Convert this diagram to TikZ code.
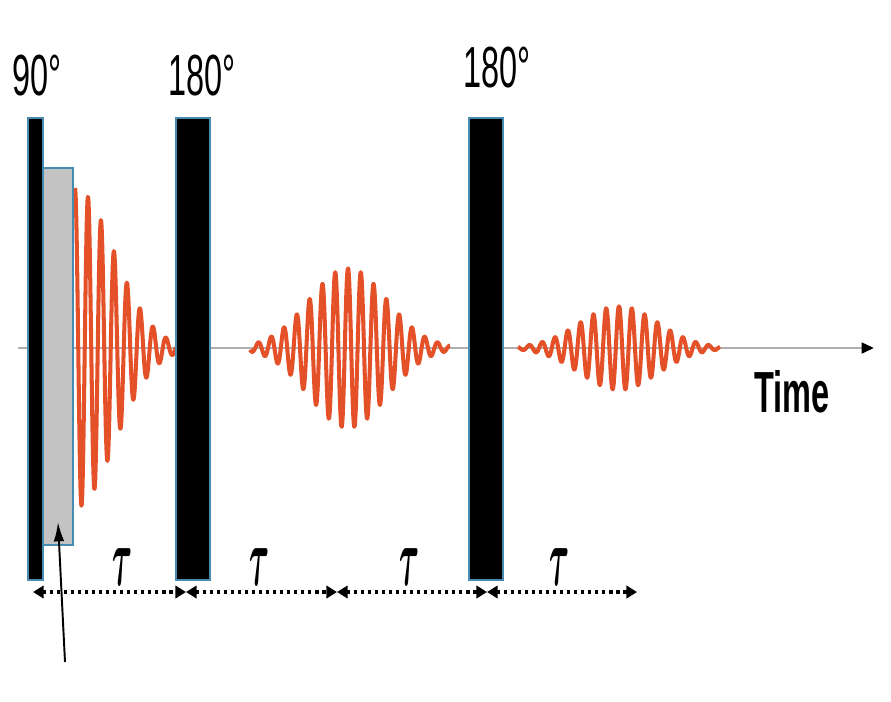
\documentclass[tikz,border=0pt]{standalone}
\usepackage{fontspec}
\usepackage{graphicx}
\usetikzlibrary{arrows.meta}
\newfontfamily\narrowsans[FakeStretch=0.56]{Liberation Sans}
\definecolor{pulseblue}{RGB}{70,140,178}
\definecolor{echored}{RGB}{228,80,40}
\definecolor{axisgray}{RGB}{176,176,176}
\definecolor{gatefill}{RGB}{195,195,195}

\begin{document}
\begin{tikzpicture}
        [x=0.02cm,y=-0.02cm,
        pulse-bar/.style={rectangle,draw=pulseblue,fill=black,line width=1.4pt,inner sep=0pt,outer sep=0pt},
        gate-box/.style={rectangle,draw=pulseblue,fill=gatefill,line width=1.4pt,inner sep=0pt,outer sep=0pt},
        angle-label/.style={anchor=base,inner sep=0pt,font=\narrowsans\fontsize{33}{33}\selectfont},
        time-label/.style={anchor=base,inner sep=0pt,font=\narrowsans\bfseries\fontsize{33}{33}\selectfont},
        tau-label/.style={inner sep=0pt,font=\fontsize{25}{25}\selectfont\boldmath},
        wave/.style={echored,line width=2.3pt,line join=round},
        time-axis/.style={axisgray,line width=1.6pt,-{Triangle[length=7pt,width=6pt,black]}},
        tau-arrow/.style={line width=2.3pt,dash pattern=on 1.8pt off 2.2pt,{Triangle[length=6pt,width=7pt]}-{Triangle[length=6pt,width=7pt]}},
        pointer/.style={line width=1.1pt,-{Latex[length=11pt,width=6pt]}}
        ]
        \useasboundingbox (0,0) rectangle (891,701);
        \coordinate (ax-0) at (18,348);
        \coordinate (ax-1) at (874,348);
        \draw[time-axis] (ax-0) -- (ax-1);
        \draw[wave] plot[domain=75:176,samples=300] (\x,{348-160*exp(-(((\x-75)/55)^2))*cos(360/13*(\x-75))});
        \draw[wave] plot[domain=250:450,samples=400] (\x,{348-80*exp(-(((\x-348)/55)^2))*cos(360/12.8*(\x-348))});
        \draw[wave] plot[domain=518:720,samples=400] (\x,{348-42*exp(-(((\x-619)/55)^2))*cos(360/12.8*(\x-619))});
        \node[pulse-bar,minimum width=0.30cm,minimum height=9.24cm] (pulse-90) at (35.5,349) {};
        \node[gate-box,minimum width=0.60cm,minimum height=7.54cm] (gate) at (58,356.5) {};
        \node[pulse-bar,minimum width=0.68cm,minimum height=9.24cm] (pulse-180a) at (193,349) {};
        \node[pulse-bar,minimum width=0.68cm,minimum height=9.24cm] (pulse-180b) at (486,349) {};
        \node[angle-label] (lbl-90) at (37,95) {90°};
        \node[angle-label] (lbl-180a) at (202,95) {180°};
        \node[angle-label] (lbl-180b) at (497,87) {180°};
        \node[time-label] (lbl-time) at (792,412) {Time};
        \coordinate (t-0) at (33,592);
        \coordinate (t-1) at (186,592);
        \coordinate (t-2) at (337,592);
        \coordinate (t-3) at (487,592);
        \coordinate (t-4) at (637,592);
        \draw[tau-arrow] (t-0) -- (t-1);
        \draw[tau-arrow] (t-1) -- (t-2);
        \draw[tau-arrow] (t-2) -- (t-3);
        \draw[tau-arrow] (t-3) -- (t-4);
        \node[tau-label] (tau-1) at (123,567) {\scalebox{0.7}[1.9]{$\tau$}};
        \node[tau-label] (tau-2) at (260,567) {\scalebox{0.7}[1.9]{$\tau$}};
        \node[tau-label] (tau-3) at (410,567) {\scalebox{0.7}[1.9]{$\tau$}};
        \node[tau-label] (tau-4) at (560,567) {\scalebox{0.7}[1.9]{$\tau$}};
        \coordinate (ptr-tail) at (65,662);
        \coordinate (ptr-tip) at (58,522);
        \draw[pointer] (ptr-tail) -- (ptr-tip);
    \end{tikzpicture}
\end{document}
